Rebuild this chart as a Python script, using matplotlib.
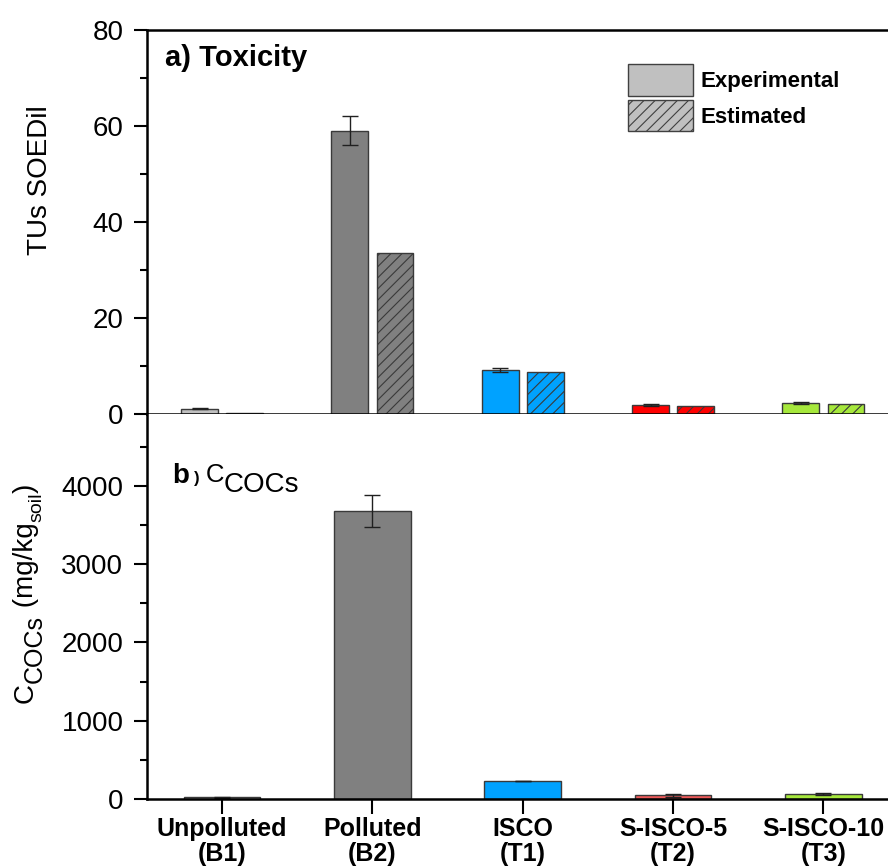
import matplotlib
matplotlib.use("Agg")
import matplotlib.pyplot as plt
from matplotlib.patches import Patch
from matplotlib.ticker import MultipleLocator
import numpy as np

plt.rcParams['font.family'] = ['Liberation Sans', 'DejaVu Sans']
plt.rcParams['hatch.linewidth'] = 0.8

# ---- data ----
categories = ["Unpolluted\n(B1)", "Polluted\n(B2)", "ISCO\n(T1)", "S-ISCO-5\n(T2)", "S-ISCO-10\n(T3)"]
colors_top = ["#C0C0C0", "#808080", "#00A2FF", "#FF0000", "#A6E83C"]
colors_bottom = ["#C0C0C0", "#808080", "#00A2FF", "#EE5A5A", "#A6E83C"]

tox_experimental = [1.1, 59.0, 9.1, 1.8, 2.3]
tox_experimental_err = [0.15, 3.0, 0.4, 0.2, 0.15]
tox_estimated = [0.3, 33.5, 8.8, 1.6, 2.0]

coc_values = [20, 3680, 230, 45, 65]
coc_err = [5, 200, 0, 20, 10]

legend_labels = ["Experimental", "Estimated"]

# ---- figure ----
W, H = 888, 867
fig = plt.figure(figsize=(W / 100, H / 100), dpi=100)


def fx(px):
    return px / W


def fy(py):
    return 1 - py / H


left = fx(147)
ax1 = fig.add_axes([left, fy(414), 1 - left, fy(30) - fy(414)])
ax2 = fig.add_axes([left, fy(799), 1 - left, fy(414) - fy(799)])

x = np.arange(len(categories))
edge = "#3A3A3A"
w_top = 0.245
off = 0.15
ekw = dict(ecolor="#202020", elinewidth=1.0, capsize=5.5, capthick=1.0)

ax1.bar(x - off, tox_experimental, w_top, color=colors_top, edgecolor=edge, linewidth=1.0,
        yerr=tox_experimental_err, error_kw=ekw, zorder=2)
ax1.bar(x + off, tox_estimated, w_top, color=colors_top, edgecolor=edge, linewidth=1.0,
        hatch="///", zorder=2)

ax2.bar(x, coc_values, 0.51, color=colors_bottom, edgecolor=edge, linewidth=1.0,
        yerr=coc_err, error_kw=ekw, zorder=2)

for ax in (ax1, ax2):
    ax.set_xlim(-0.5, 4.43)
    ax.spines['right'].set_visible(False)
    for s in ('left', 'bottom', 'top'):
        ax.spines[s].set_linewidth(1.8)
    ax.tick_params(axis='y', which='major', direction='out', length=9.5, width=1.5,
                   labelsize=20, pad=7.5)
    ax.tick_params(axis='y', which='minor', direction='out', length=5, width=1.5)
    ax.tick_params(axis='x', which='major', direction='out', length=10.5, width=1.5)
    ax.set_xticks(x)

ax1.set_ylim(0, 80)
ax1.yaxis.set_major_locator(MultipleLocator(20))
ax1.yaxis.set_minor_locator(MultipleLocator(10))
ax1.set_xticklabels([])

ax2.set_ylim(0, 4920)
ax2.spines['top'].set_visible(False)
ax2.yaxis.set_major_locator(MultipleLocator(1000))
ax2.yaxis.set_minor_locator(MultipleLocator(500))
ax2.set_xticklabels(categories, fontsize=18, fontweight='bold', linespacing=1.05)
ax2.tick_params(axis='x', pad=2.5)

renderer = fig.canvas.get_renderer()

# y label top
fig.text(fx(40), fy(180), "TUs SOEDil", rotation=90, fontsize=20, ha='center', va='center')

# y label bottom, built from pieces (rotated, reading upward)
pieces = [("C", 20, 0), ("COCs", 18, 9), (" (mg/kg", 20, 0), ("soil", 14, 8), (")", 20, 0)]
ypos = 703.0
base_x = 33.0
for txt, size, dxo in pieces:
    t = fig.text(fx(base_x + dxo), fy(ypos), txt, rotation=90, rotation_mode='anchor',
                 ha='left', va='baseline', fontsize=size)
    bb = t.get_window_extent(renderer)
    ypos -= bb.height

# panel titles
fig.text(fx(165), fy(66), "a) Toxicity", fontsize=21, fontweight='bold', ha='left', va='baseline')
fig.text(fx(172), fy(483), "b", fontsize=20, fontweight='bold', ha='left', va='baseline')
fig.text(fx(194), fy(483), ")", fontsize=12, fontweight='bold', ha='left', va='baseline')
fig.text(fx(206), fy(482), "C", fontsize=18.5, ha='left', va='baseline')
fig.text(fx(224), fy(492), "COCs", fontsize=20, ha='left', va='baseline')

# legend
handles = [Patch(facecolor="#C0C0C0", edgecolor="#404040", linewidth=1.0),
           Patch(facecolor="#C0C0C0", edgecolor="#404040", linewidth=1.0, hatch="///")]
ax1.legend(handles, legend_labels, loc='upper left',
           bbox_to_anchor=(fx(628), fy(64)), bbox_transform=fig.transFigure,
           frameon=False, borderpad=0, borderaxespad=0,
           handlelength=2.93, handleheight=1.82, labelspacing=0.18, handletextpad=0.32,
           prop={'weight': 'bold', 'size': 16})

fig.savefig("out.png", dpi=100)
